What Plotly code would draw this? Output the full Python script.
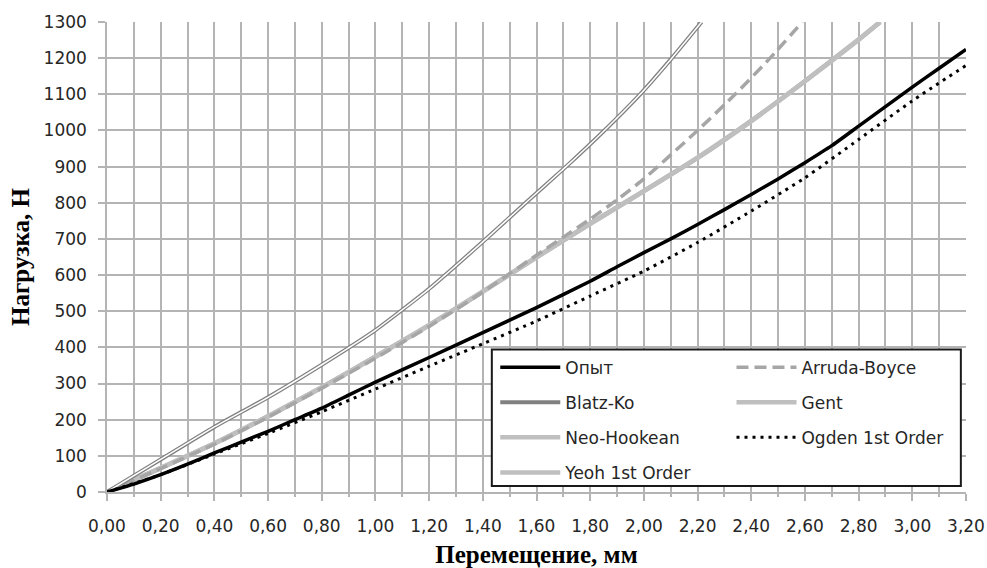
import plotly.graph_objects as go

# ---- data ----
exp_x = [0.0, 0.1, 0.2, 0.3, 0.4, 0.5, 0.6, 0.7, 0.8, 0.9, 1.0, 1.2, 1.4, 1.6, 1.8, 1.9, 2.0,
         2.1, 2.2, 2.3, 2.4, 2.5, 2.6, 2.7, 2.8, 2.9, 3.0, 3.1, 3.2]
exp_y = [0, 22, 48, 77, 108, 138, 168, 200, 232, 268, 304, 372, 441, 510, 583, 623, 662,
         700, 740, 781, 823, 866, 911, 958, 1012, 1066, 1120, 1172, 1224]

ogden_x = [0.0, 0.2, 0.4, 0.6, 0.8, 1.0, 1.2, 1.4, 1.6, 1.8, 2.0, 2.2, 2.4, 2.6, 2.8, 3.0, 3.2]
ogden_y = [0, 48, 105, 162, 222, 285, 348, 410, 473, 542, 611, 690, 777, 869, 975, 1082, 1180]

gent_x = [0.0, 0.2, 0.4, 0.6, 0.8, 1.0, 1.2, 1.4, 1.6, 1.8, 2.0, 2.2, 2.4, 2.6, 2.8, 2.88]
gent_y = [0, 67, 135, 210, 290, 375, 462, 555, 650, 743, 833, 925, 1027, 1137, 1252, 1300]

neo_x = gent_x
neo_y = [0, 66, 134, 209, 289, 374, 461, 554, 649, 742, 832, 924, 1026, 1136, 1251, 1300]

yeoh_x = gent_x
yeoh_y = [0, 66, 134, 209, 289, 374, 461, 554, 649, 742, 832, 924, 1026, 1136, 1251, 1300]

arruda_x = [0.0, 0.2, 0.4, 0.6, 0.8, 1.0, 1.2, 1.4, 1.6, 1.8, 1.9, 2.0, 2.2, 2.34, 2.47, 2.59]
arruda_y = [0, 65, 132, 207, 287, 370, 458, 553, 655, 755, 808, 866, 1000, 1100, 1200, 1300]

blatz_x = [0.0, 0.2, 0.4, 0.6, 0.8, 1.0, 1.2, 1.4, 1.56, 1.71, 1.853, 1.986, 2.104, 2.215]
blatz_y = [0, 90, 180, 262, 352, 448, 562, 692, 800, 900, 1000, 1100, 1200, 1300]

names = ["Опыт", "Blatz-Ko", "Neo-Hookean", "Yeoh 1st Order",
         "Arruda-Boyce", "Gent", "Ogden 1st Order"]

LIGHT = "#bfbfbf"
fig = go.Figure()

def add(x, y, name, color, width, dash="solid", legend="legend", rank=1, showlegend=True):
    fig.add_trace(go.Scatter(
        x=x, y=y, name=name, mode="lines",
        line=dict(color=color, width=width, dash=dash, shape="spline", smoothing=0.5),
        legend=legend, legendgroup=name, legendrank=rank, showlegend=showlegend,
        hoverinfo="skip"))

add(neo_x, neo_y, names[2], LIGHT, 4.5, legend="legend", rank=3)
add(yeoh_x, yeoh_y, names[3], LIGHT, 4.5, legend="legend", rank=4)
add(gent_x, gent_y, names[5], LIGHT, 4.5, legend="legend2", rank=2)
add(arruda_x, arruda_y, names[4], "#a6a6a6", 3.5, dash="12px,6px", legend="legend2", rank=1)
add(blatz_x, blatz_y, names[1], "#808080", 4, legend="legend", rank=2)
add(blatz_x, blatz_y, names[1] + " ", "#ffffff", 1.5, legend="legend", rank=2, showlegend=False)
add(ogden_x, ogden_y, names[6], "#000000", 3, dash="3px,5px", legend="legend2", rank=3)
add(exp_x, exp_y, names[0], "#000000", 3.5, legend="legend", rank=1)

GRID = "#b4b4b4"
TICKFONT = dict(family="DejaVu Sans", size=17, color="#262626")
LEGFONT = dict(family="DejaVu Sans", size=17, color="#262626")

fig.update_layout(
    width=987, height=568,
    margin=dict(l=107, r=21, t=22, b=76),
    paper_bgcolor="white", plot_bgcolor="white",
    separators=", ",
    xaxis=dict(
        range=[0, 3.2], dtick=0.2, tick0=0, tickformat=".2f", automargin=False,
        showgrid=True, gridcolor=GRID, gridwidth=1.5,
        minor=dict(dtick=0.1, showgrid=True, gridcolor=GRID, gridwidth=1.5,
                   ticks="outside", ticklen=3, tickcolor=GRID),
        ticks="outside", ticklen=7, tickcolor=GRID, tickwidth=1.5,
        showline=True, linecolor=GRID, linewidth=1.5,
        tickfont=TICKFONT, ticklabelstandoff=11, zeroline=False,
        title=dict(text="<b>Перемещение, мм</b>", standoff=11,
                   font=dict(family="Liberation Serif", size=25, color="#000000")),
    ),
    yaxis=dict(
        range=[0, 1300], dtick=100, tick0=0, automargin=False,
        showgrid=True, gridcolor=GRID, gridwidth=1.5,
        ticks="outside", ticklen=7, tickcolor=GRID, tickwidth=1.5,
        showline=True, linecolor=GRID, linewidth=1.5,
        tickfont=TICKFONT, ticklabelstandoff=8, zeroline=False,
        title=dict(text="<b>Нагрузка, Н</b>", standoff=7,
                   font=dict(family="Liberation Serif", size=25, color="#000000")),
    ),
    legend=dict(
        x=0.452, y=0.303, xanchor="left", yanchor="top",
        bgcolor="rgba(0,0,0,0)", borderwidth=0, font=LEGFONT,
        itemwidth=60, tracegroupgap=10, traceorder="grouped",
    ),
    legend2=dict(
        x=0.727, y=0.303, xanchor="left", yanchor="top",
        bgcolor="rgba(0,0,0,0)", borderwidth=0, font=LEGFONT,
        itemwidth=60, tracegroupgap=10, traceorder="grouped",
    ),
    shapes=[dict(type="rect", xref="paper", yref="paper",
                 x0=0.448, x1=0.994, y0=0.013, y1=0.303,
                 line=dict(color="#1a1a1a", width=2), fillcolor="white", layer="above")],
    showlegend=True,
)

fig.write_html("out.html", config={"displayModeBar": False},
               post_script="document.body.style.margin='0';document.body.style.overflow='hidden';")
